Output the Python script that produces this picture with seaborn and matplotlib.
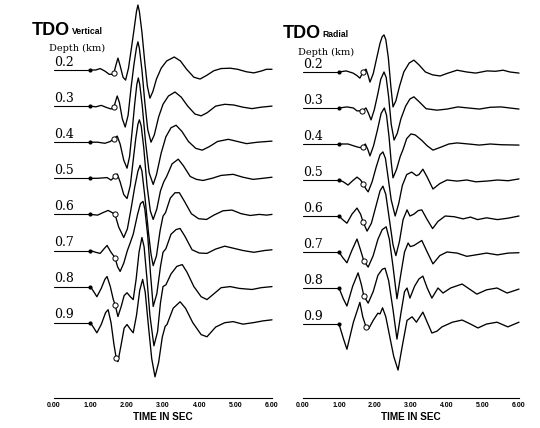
import matplotlib
matplotlib.use("Agg")
import matplotlib.pyplot as plt
from matplotlib.ticker import MultipleLocator
import pandas as pd
import seaborn as sns

# ---------- DATA (time in s, amplitude in trace-spacing units) ----------
DEPTHS = ["0.2", "0.3", "0.4", "0.5", "0.6", "0.7", "0.8", "0.9"]
TICK_LABELS = ["0.00", "1.00", "2.00", "3.00", "4.00", "5.00", "6.00"]

# vertical component
v02 = [(1.00, 0.00), (1.15, 0.00), (1.27, 0.04), (1.40, -0.03), (1.52, -0.12), (1.60, -0.12), (1.65, -0.08),
       (1.70, 0.12), (1.76, 0.33), (1.82, 0.12), (1.90, -0.20), (1.97, -0.28), (2.05, 0.05), (2.13, 0.60),
       (2.20, 1.10), (2.27, 1.62), (2.31, 1.80), (2.35, 1.62), (2.42, 1.05), (2.50, 0.20), (2.57, -0.45),
       (2.64, -0.78), (2.72, -0.60), (2.82, -0.25), (2.95, 0.05), (3.10, 0.25), (3.31, 0.36), (3.48, 0.25),
       (3.65, 0.02), (3.85, -0.20), (4.02, -0.25), (4.20, -0.15), (4.40, -0.02), (4.60, 0.04), (4.85, 0.05),
       (5.05, 0.02), (5.30, -0.05), (5.50, -0.08), (5.70, -0.03), (5.85, 0.02), (6.00, 0.02)]
v03 = [(1.00, 0.00), (1.15, -0.02), (1.30, 0.02), (1.45, -0.04), (1.57, -0.08), (1.65, -0.03), (1.70, 0.15),
       (1.74, 0.28), (1.80, 0.10), (1.88, -0.35), (1.96, -0.58), (2.04, -0.25), (2.12, 0.50), (2.20, 1.15),
       (2.27, 1.62), (2.31, 1.78), (2.35, 1.60), (2.42, 1.00), (2.50, 0.10), (2.58, -0.65), (2.67, -1.00),
       (2.76, -0.80), (2.88, -0.30), (3.00, 0.05), (3.15, 0.28), (3.33, 0.39), (3.50, 0.25), (3.68, 0.00),
       (3.88, -0.22), (4.05, -0.27), (4.22, -0.18), (4.45, 0.00), (4.70, 0.05), (4.95, 0.03), (5.20, -0.03),
       (5.45, -0.07), (5.70, -0.03), (6.00, 0.00)]
v04 = [(1.00, 0.00), (1.20, 0.00), (1.40, -0.03), (1.55, 0.02), (1.65, 0.10), (1.74, 0.17), (1.82, -0.05),
       (1.92, -0.50), (2.01, -0.72), (2.08, -0.40), (2.15, 0.30), (2.22, 1.05), (2.28, 1.60), (2.32, 1.78),
       (2.36, 1.60), (2.43, 1.00), (2.52, 0.00), (2.62, -0.85), (2.73, -1.17), (2.82, -0.90), (2.95, -0.30),
       (3.08, 0.15), (3.22, 0.40), (3.36, 0.47), (3.52, 0.30), (3.70, 0.02), (3.90, -0.17), (4.08, -0.22),
       (4.28, -0.12), (4.50, 0.02), (4.80, 0.08), (5.05, 0.02), (5.30, -0.04), (5.60, 0.00), (6.00, 0.03)]
v05 = [(1.00, 0.00), (1.20, 0.00), (1.46, 0.02), (1.57, -0.05), (1.68, 0.05), (1.74, 0.12), (1.82, -0.10),
       (1.92, -0.45), (2.01, -0.56), (2.10, -0.20), (2.18, 0.50), (2.25, 1.10), (2.31, 1.50), (2.35, 1.62),
       (2.40, 1.45), (2.47, 0.85), (2.56, -0.20), (2.65, -0.90), (2.73, -1.14), (2.83, -0.85), (2.93, -0.35),
       (3.02, -0.10), (3.10, 0.05), (3.25, 0.40), (3.42, 0.53), (3.56, 0.35), (3.75, 0.05), (3.92, -0.03),
       (4.10, -0.06), (4.35, 0.00), (4.60, 0.08), (4.93, 0.11), (5.20, 0.03), (5.48, -0.03), (5.75, 0.00),
       (6.00, 0.03)]
v06 = [(1.00, 0.00), (1.20, -0.02), (1.35, 0.05), (1.49, 0.11), (1.60, 0.05), (1.68, 0.00), (1.78, -0.35),
       (1.92, -0.64), (2.02, -0.40), (2.12, 0.15), (2.22, 0.75), (2.31, 1.20), (2.37, 1.36), (2.42, 1.20),
       (2.50, 0.50), (2.60, -0.50), (2.67, -1.10), (2.73, -1.42), (2.82, -1.15), (2.92, -0.45), (3.00, -0.05),
       (3.07, 0.05), (3.20, 0.45), (3.33, 0.60), (3.45, 0.60), (3.58, 0.38), (3.78, 0.02), (3.98, -0.12),
       (4.20, -0.14), (4.40, -0.02), (4.65, 0.10), (4.90, 0.12), (5.15, 0.02), (5.40, -0.03), (5.65, 0.00),
       (5.85, -0.02), (6.00, 0.00)]
v07 = [(1.00, 0.00), (1.15, -0.05), (1.27, -0.08), (1.38, 0.05), (1.46, 0.14), (1.57, -0.05), (1.68, -0.20),
       (1.75, -0.45), (1.82, -0.58), (1.92, -0.35), (2.02, 0.00), (2.09, 0.19), (2.18, 0.45), (2.30, 1.00),
       (2.38, 1.30), (2.45, 1.36), (2.50, 1.15), (2.58, 0.40), (2.66, -0.70), (2.73, -1.55), (2.83, -1.20),
       (2.93, -0.45), (3.00, -0.05), (3.08, 0.05), (3.22, 0.45), (3.36, 0.58), (3.47, 0.61), (3.60, 0.40),
       (3.80, 0.02), (4.00, -0.07), (4.21, -0.08), (4.45, 0.04), (4.70, 0.12), (4.95, 0.06), (5.20, 0.00),
       (5.50, -0.05), (5.80, 0.00), (6.00, 0.02)]
v08 = [(1.00, 0.00), (1.10, -0.15), (1.18, -0.28), (1.30, -0.05), (1.40, 0.20), (1.46, 0.28), (1.55, 0.00),
       (1.63, -0.35), (1.68, -0.50), (1.76, -0.83), (1.85, -0.55), (1.93, -0.25), (2.01, -0.17), (2.10, -0.28),
       (2.18, -0.36), (2.26, 0.20), (2.34, 0.95), (2.42, 1.36), (2.48, 1.10), (2.56, 0.20), (2.64, -0.80),
       (2.75, -1.64), (2.85, -1.25), (2.93, -0.45), (3.00, 0.00), (3.08, 0.05), (3.22, 0.35), (3.38, 0.56),
       (3.53, 0.61), (3.66, 0.40), (3.85, 0.00), (4.05, -0.28), (4.21, -0.36), (4.40, -0.20), (4.60, -0.03),
       (4.85, 0.00), (5.10, -0.05), (5.45, -0.08), (5.70, -0.03), (6.00, 0.00)]
v09 = [(1.00, 0.00), (1.10, -0.15), (1.18, -0.28), (1.30, -0.05), (1.42, 0.28), (1.49, 0.36), (1.57, 0.00),
       (1.65, -0.60), (1.71, -0.97), (1.76, -1.08), (1.85, -0.60), (1.93, -0.15), (2.01, -0.05), (2.10, -0.18),
       (2.18, -0.28), (2.27, 0.20), (2.36, 0.90), (2.44, 1.20), (2.51, 0.85), (2.60, -0.10), (2.69, -1.00),
       (2.78, -1.50), (2.88, -1.10), (2.98, -0.40), (3.06, -0.10), (3.11, -0.05), (3.28, 0.40), (3.47, 0.58),
       (3.62, 0.40), (3.82, 0.00), (4.05, -0.33), (4.21, -0.39), (4.45, -0.12), (4.70, 0.00), (4.93, 0.03),
       (5.20, -0.04), (5.48, 0.00), (5.75, 0.05), (6.00, 0.08)]

# radial component
r02 = [(1.00, 0.00), (1.20, 0.03), (1.39, -0.03), (1.50, -0.10), (1.58, -0.17), (1.67, 0.00), (1.75, 0.08),
       (1.81, -0.10), (1.86, -0.28), (1.95, -0.05), (2.05, 0.40), (2.14, 0.80), (2.20, 0.98), (2.25, 1.03),
       (2.30, 0.90), (2.37, 0.40), (2.44, -0.40), (2.50, -0.97), (2.58, -0.80), (2.68, -0.40), (2.80, 0.00),
       (2.95, 0.25), (3.08, 0.33), (3.22, 0.20), (3.40, 0.00), (3.60, -0.08), (3.81, -0.11), (4.00, -0.04),
       (4.28, 0.05), (4.55, 0.00), (4.80, -0.03), (5.11, 0.03), (5.35, 0.02), (5.56, 0.05), (5.75, 0.00),
       (6.00, -0.03)]
r03 = [(1.00, 0.00), (1.22, 0.03), (1.40, 0.00), (1.50, -0.08), (1.64, -0.08), (1.75, 0.00), (1.82, -0.15),
       (1.89, -0.33), (1.98, -0.05), (2.08, 0.40), (2.16, 0.80), (2.25, 1.00), (2.31, 0.85), (2.38, 0.30),
       (2.45, -0.45), (2.53, -0.89), (2.62, -0.70), (2.72, -0.30), (2.85, 0.05), (2.97, 0.25), (3.08, 0.31),
       (3.22, 0.18), (3.42, -0.02), (3.72, -0.06), (4.00, -0.03), (4.30, 0.03), (4.60, 0.00), (4.90, -0.03),
       (5.20, 0.02), (5.50, 0.03), (5.75, 0.00), (6.00, -0.03)]
r04 = [(1.00, 0.00), (1.25, 0.00), (1.50, -0.08), (1.58, -0.10), (1.67, -0.08), (1.73, 0.00), (1.80, -0.15),
       (1.86, -0.33), (1.96, -0.05), (2.07, 0.40), (2.17, 0.85), (2.26, 1.00), (2.32, 0.80), (2.39, 0.20),
       (2.45, -0.50), (2.50, -0.94), (2.60, -0.70), (2.70, -0.35), (2.78, -0.15), (2.88, 0.15), (3.00, 0.28),
       (3.12, 0.25), (3.30, 0.10), (3.45, -0.05), (3.61, -0.17), (3.85, -0.08), (4.05, 0.00), (4.28, 0.03),
       (4.60, 0.00), (4.90, -0.03), (5.20, 0.00), (5.50, -0.02), (6.00, -0.03)]
r05 = [(1.00, 0.00), (1.12, -0.05), (1.25, -0.14), (1.38, -0.02), (1.50, 0.08), (1.60, 0.00), (1.67, -0.11),
       (1.75, -0.25), (1.81, -0.33), (1.92, -0.05), (2.03, 0.35), (2.14, 0.70), (2.22, 0.78), (2.29, 0.60),
       (2.36, 0.10), (2.45, -0.55), (2.56, -1.00), (2.66, -0.65), (2.76, -0.15), (2.88, 0.15), (3.02, 0.22),
       (3.15, 0.12), (3.22, 0.15), (3.33, 0.30), (3.45, 0.08), (3.61, -0.25), (3.80, -0.10), (4.00, 0.00),
       (4.28, -0.03), (4.55, 0.00), (4.80, -0.05), (5.11, -0.03), (5.40, 0.00), (5.70, -0.02), (6.00, 0.03)]
r06 = [(1.00, 0.00), (1.10, -0.10), (1.22, -0.20), (1.36, 0.05), (1.50, 0.22), (1.60, 0.05), (1.67, -0.17),
       (1.78, -0.42), (1.90, -0.20), (2.02, 0.25), (2.14, 0.70), (2.22, 0.83), (2.30, 0.60), (2.40, -0.10),
       (2.50, -0.80), (2.58, -1.10), (2.68, -0.70), (2.78, -0.10), (2.89, 0.17), (2.97, 0.00), (3.08, 0.05),
       (3.20, 0.15), (3.30, 0.17), (3.45, -0.10), (3.60, -0.35), (3.75, -0.15), (3.95, 0.00), (4.20, -0.02),
       (4.45, -0.08), (4.65, -0.03), (4.85, -0.10), (5.10, -0.05), (5.40, -0.10), (5.70, -0.06), (6.00, 0.00)]
r07 = [(1.00, 0.00), (1.10, -0.15), (1.22, -0.30), (1.36, 0.05), (1.50, 0.36), (1.60, 0.05), (1.69, -0.25),
       (1.81, -0.42), (1.95, -0.10), (2.08, 0.35), (2.20, 0.62), (2.31, 0.70), (2.40, 0.35), (2.50, -0.40),
       (2.61, -1.30), (2.72, -0.60), (2.82, 0.00), (2.92, 0.25), (2.98, 0.15), (3.08, 0.18), (3.30, 0.32),
       (3.45, 0.00), (3.61, -0.33), (3.80, -0.10), (4.00, 0.00), (4.28, -0.03), (4.55, -0.12), (4.80, -0.08),
       (5.10, -0.03), (5.40, -0.08), (5.70, -0.03), (6.00, -0.02)]
r08 = [(1.00, 0.00), (1.12, -0.30), (1.22, -0.50), (1.38, 0.05), (1.53, 0.42), (1.62, 0.10), (1.69, -0.22),
       (1.81, -0.42), (1.95, -0.10), (2.08, 0.35), (2.20, 0.52), (2.28, 0.55), (2.38, 0.20), (2.50, -0.60),
       (2.61, -1.42), (2.72, -0.70), (2.82, -0.10), (2.89, 0.00), (2.97, -0.28), (3.10, 0.05), (3.22, 0.25),
       (3.33, 0.33), (3.45, 0.00), (3.58, -0.28), (3.75, 0.00), (3.89, -0.14), (4.10, 0.00), (4.42, 0.11),
       (4.83, -0.17), (5.10, -0.05), (5.39, 0.00), (5.67, -0.14), (6.00, -0.03)]
r09 = [(1.00, 0.00), (1.12, -0.40), (1.22, -0.70), (1.40, 0.05), (1.58, 0.60), (1.66, 0.20), (1.75, -0.08),
       (1.83, -0.12), (1.95, 0.10), (2.08, 0.30), (2.14, 0.28), (2.21, 0.45), (2.30, 0.20), (2.42, -0.40),
       (2.52, -0.90), (2.64, -1.28), (2.76, -0.60), (2.89, 0.10), (3.03, 0.20), (3.15, 0.05), (3.33, 0.33),
       (3.45, 0.05), (3.58, -0.25), (3.72, -0.20), (3.86, -0.08), (4.15, 0.05), (4.42, 0.11), (4.65, 0.00),
       (4.86, -0.11), (5.10, 0.00), (5.39, 0.05), (5.69, -0.08), (6.00, 0.05)]

# open-circle picks on each trace
v_circ_t = [1.65, 1.65, 1.65, 1.68, 1.68, 1.68, 1.68, 1.71]
v_circ_a = [-0.08, -0.03, 0.10, 0.05, 0.00, -0.20, -0.50, -0.97]
r_circ_t = [1.67, 1.64, 1.67, 1.67, 1.67, 1.69, 1.69, 1.75]
r_circ_a = [0.00, -0.08, -0.08, -0.11, -0.17, -0.25, -0.22, -0.08]

VERT = [v02, v03, v04, v05, v06, v07, v08, v09]
RAD = [r02, r03, r04, r05, r06, r07, r08, r09]


def to_frame(traces):
    rows = []
    for k, (depth, tr) in enumerate(zip(DEPTHS, traces)):
        for t, a in tr:
            rows.append({"depth": depth, "time": t, "y": a - k})
    return pd.DataFrame(rows)


def draw_panel(ax, traces, circ_t, circ_a, ylim):
    df = to_frame(traces)
    sns.lineplot(data=df, x="time", y="y", units="depth", estimator=None, sort=False,
                 color="black", lw=0.95, ax=ax, legend=False)

    starts = df.groupby("depth", sort=False).first().reset_index()
    sns.scatterplot(data=starts, x="time", y="y", color="black", s=9, linewidth=0, ax=ax, zorder=4)

    circ = pd.DataFrame({"time": circ_t, "y": [a - k for k, a in enumerate(circ_a)]})
    sns.scatterplot(data=circ, x="time", y="y", color="white", edgecolor="black", s=14,
                    linewidth=0.7, ax=ax, zorder=5)

    for k, (depth, tr) in enumerate(zip(DEPTHS, traces)):
        ax.text(0.0, -k + 0.04, depth, family="DejaVu Serif", fontsize=9, ha="left", va="bottom")
        ax.plot([0.0, tr[0][0]], [-k, -k], color="black", lw=0.8)

    ax.set_xlim(0, 6)
    ax.set_ylim(*ylim)
    ax.set_xticks(range(7))
    ax.set_xticklabels(TICK_LABELS, fontsize=5, fontweight="bold")
    ax.xaxis.set_minor_locator(MultipleLocator(0.2))
    ax.tick_params(axis="x", which="major", direction="in", length=4, width=0.8, pad=3,
                   color="black", labelcolor="black")
    ax.tick_params(axis="x", which="minor", direction="in", length=1.5, width=0.6, color="black")
    ax.set_yticks([])
    ax.set_ylabel("")
    ax.set_xlabel("TIME IN SEC", fontsize=7.2, fontweight="bold", labelpad=2, color="black")
    for side in ["left", "top", "right"]:
        ax.spines[side].set_visible(False)
    ax.spines["bottom"].set_linewidth(0.8)
    ax.spines["bottom"].set_color("black")
    ax.patch.set_alpha(0)


sns.set_style("white")
plt.rcParams["font.family"] = ["Liberation Sans", "DejaVu Sans"]
plt.rcParams["text.color"] = "black"
plt.rcParams["axes.labelcolor"] = "black"

W, H = 540, 428
fig = plt.figure(figsize=(W / 100, H / 100), dpi=100)

ax1 = fig.add_axes([54 / W, 30 / H, 218 / W, 398 / H])
ax2 = fig.add_axes([303 / W, 30 / H, 216 / W, 398 / H])

draw_panel(ax1, VERT, v_circ_t, v_circ_a, (-(398 - 70) / 36.1, 70 / 36.1))
draw_panel(ax2, RAD, r_circ_t, r_circ_a, (-(398 - 72) / 36.0, 72 / 36.0))
for a in (ax1, ax2):
    for ln in a.lines:
        ln.set_clip_on(False)

# panel headers
fig.text(32 / W, 1 - 35 / H, "TDO", fontsize=13, fontweight="bold", va="baseline")
fig.text(72 / W, 1 - 34 / H, "Vertical", fontsize=6.2, fontweight="bold", va="baseline")
fig.text(49 / W, 1 - 51 / H, "Depth (km)", family="DejaVu Serif", fontsize=7, va="baseline")
fig.text(283 / W, 1 - 38 / H, "TDO", fontsize=13, fontweight="bold", va="baseline")
fig.text(322 / W, 1 - 37 / H, "Radial", fontsize=6.2, fontweight="bold", va="baseline")
fig.text(298 / W, 1 - 55 / H, "Depth (km)", family="DejaVu Serif", fontsize=7, va="baseline")

fig.savefig("out.png", dpi=100)
